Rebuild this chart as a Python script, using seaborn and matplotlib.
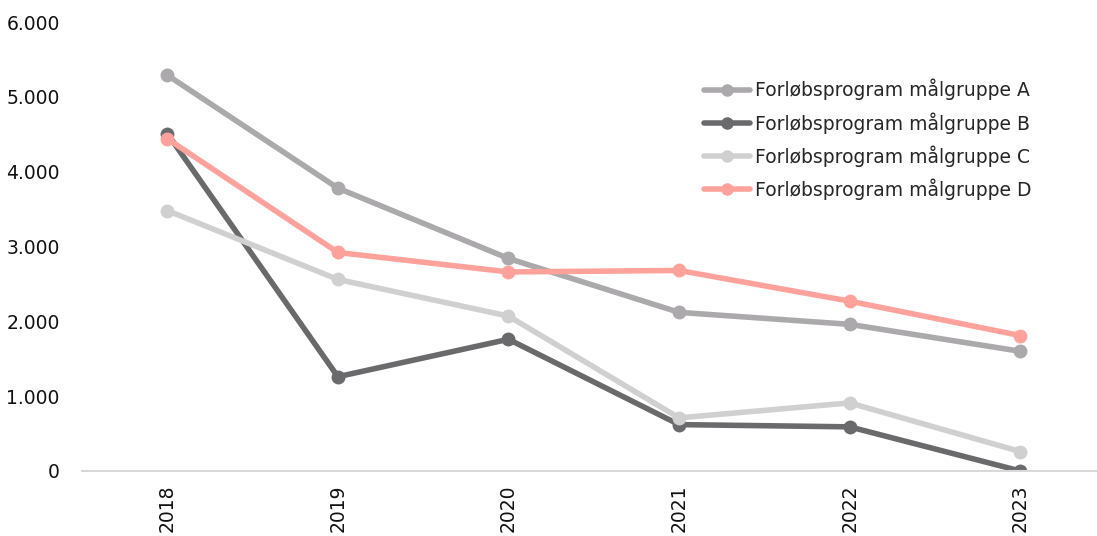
import matplotlib
matplotlib.use("Agg")
import matplotlib.pyplot as plt
import seaborn as sns
import pandas as pd
from matplotlib.ticker import FuncFormatter

years = ["2018", "2019", "2020", "2021", "2022", "2023"]
series_a = [5290, 3780, 2840, 2120, 1960, 1600]
series_b = [4510, 1260, 1760, 620, 590, 0]
series_c = [3480, 2560, 2070, 710, 910, 260]
series_d = [4440, 2920, 2660, 2680, 2270, 1810]
labels = ["Forløbsprogram målgruppe A", "Forløbsprogram målgruppe B",
          "Forløbsprogram målgruppe C", "Forløbsprogram målgruppe D"]
colors = ["#ABA9AB", "#6A696C", "#D0D0D0", "#FFA29C"]

rows = []
for lab, vals in zip(labels, [series_a, series_b, series_c, series_d]):
    for i, (y, v) in enumerate(zip(years, vals)):
        rows.append({"idx": i, "year": y, "value": v, "series": lab})
df = pd.DataFrame(rows)

sns.set_style("white")
plt.rcParams['font.family'] = ['DejaVu Sans']

fig = plt.figure(figsize=(10.97, 5.36), dpi=100)
ax = fig.add_axes([82/1097, 65/536, 1 - 82/1097, (471-22)/536])

sns.lineplot(data=df, x="idx", y="value", hue="series", palette=colors,
             marker="o", markersize=10, linewidth=4, markeredgewidth=0,
             ax=ax, legend=True)

ax.set_xlim(-0.5, 5.45)
ax.set_ylim(0, 6000)
ax.set_yticks(range(0, 6001, 1000))
ax.yaxis.set_major_formatter(FuncFormatter(lambda v, p: f"{int(v):,}".replace(",", ".")))
ax.set_xticks(range(len(years)))
ax.set_xticklabels(years, rotation=90)
ax.set_xlabel("")
ax.set_ylabel("")
for s in ["top", "right", "left"]:
    ax.spines[s].set_visible(False)
ax.spines["bottom"].set_color("#D9D9D9")
ax.spines["bottom"].set_linewidth(1.5)
ax.tick_params(axis="both", length=0, labelsize=13.5, colors="#111111")
ax.tick_params(axis="y", pad=16)
ax.tick_params(axis="x", pad=10)
ax.grid(False)

leg = ax.legend(loc="upper left", bbox_to_anchor=(0.605, 0.89), frameon=False,
                fontsize=13.5, handlelength=2.5, handletextpad=0.25,
                labelspacing=0.62, borderaxespad=0)
for line in leg.get_lines():
    line.set_linewidth(4)
    line.set_markersize(9)

fig.savefig("out.png", dpi=100)
